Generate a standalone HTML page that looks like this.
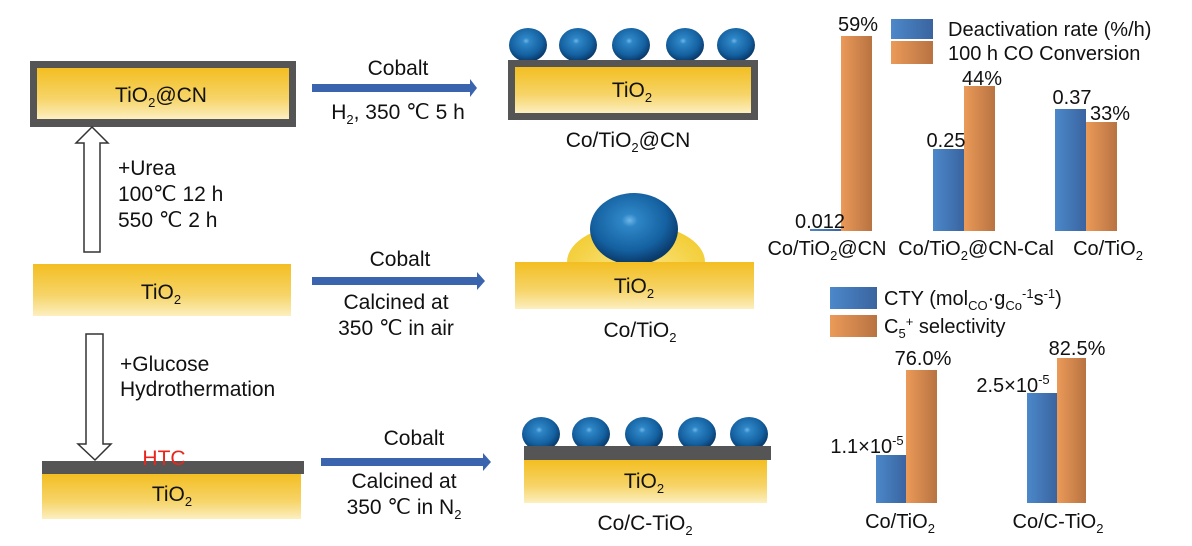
<!DOCTYPE html>
<html><head><meta charset="utf-8"><style>
html,body{margin:0;padding:0;background:#fff;}
svg{display:block;font-family:"Liberation Sans",Arial,sans-serif;}
</style></head><body>
<svg width="1192" height="546" viewBox="0 0 1192 546" xmlns="http://www.w3.org/2000/svg">
<defs>
<linearGradient id="gold" x1="0" y1="0" x2="0" y2="1"><stop offset="0" stop-color="#F3BE22"/><stop offset="0.6" stop-color="#F6D468"/><stop offset="1" stop-color="#FCEFC0"/></linearGradient>
<linearGradient id="bb" x1="0" y1="0" x2="1" y2="0"><stop offset="0" stop-color="#4C88CA"/><stop offset="1" stop-color="#3A64A0"/></linearGradient>
<linearGradient id="ob" x1="0" y1="0" x2="1" y2="0"><stop offset="0" stop-color="#EB9A58"/><stop offset="1" stop-color="#B87342"/></linearGradient>
<radialGradient id="sph" cx="0.45" cy="0.38" r="0.6"><stop offset="0" stop-color="#6FB6E8"/><stop offset="0.15" stop-color="#2E86C6"/><stop offset="0.7" stop-color="#1460A0"/><stop offset="1" stop-color="#0A3A6A"/></radialGradient>
<radialGradient id="mound" cx="0.5" cy="0.6" r="0.6"><stop offset="0" stop-color="#FBE58A"/><stop offset="1" stop-color="#F2CC30"/></radialGradient>
</defs>
<g font-size="20" fill="#111">
<!-- TiO2@CN -->
<rect x="30" y="61" width="266" height="66" fill="#555"/>
<rect x="37" y="68" width="252" height="51" fill="url(#gold)"/>
<text x="161" y="102" text-anchor="middle" font-size="21">TiO<tspan font-size="13" dy="5">2</tspan><tspan dy="-5">@CN</tspan></text>
<!-- up arrow -->
<polygon points="92,127 108,143 100,143 100,252 84,252 84,143 76,143" fill="#fff" stroke="#333" stroke-width="1.5"/>
<g font-size="21">
<text x="118" y="175">+Urea</text>
<text x="118" y="201">100℃ 12 h</text>
<text x="118" y="227">550 ℃ 2 h</text>
</g>
<!-- TiO2 plain -->
<rect x="33" y="264" width="258" height="52" fill="url(#gold)"/>
<text x="161" y="299" text-anchor="middle" font-size="21">TiO<tspan font-size="13" dy="5">2</tspan></text>
<!-- down arrow -->
<polygon points="86,334 103,334 103,444 111,444 95,460 78,444 86,444" fill="#fff" stroke="#333" stroke-width="1.5"/>
<g font-size="21">
<text x="120" y="371">+Glucose</text>
<text x="120" y="396">Hydrothermation</text>
</g>
<!-- HTC -->
<rect x="42" y="474" width="259" height="45" fill="url(#gold)"/>
<rect x="42" y="461" width="262" height="13" fill="#555"/>
<text x="164" y="465" text-anchor="middle" fill="#E8261E" font-size="21">HTC</text>
<text x="172" y="501" text-anchor="middle" font-size="21">TiO<tspan font-size="13" dy="5">2</tspan></text>
<!-- arrows -->
<g font-size="21">
<polygon points="312,84 470,84 470,79 477,88 470,97 470,92 312,92" fill="#3B64AE"/>
<text x="398" y="75" text-anchor="middle">Cobalt</text>
<text x="398" y="119" text-anchor="middle">H<tspan font-size="13" dy="5">2</tspan><tspan dy="-5">, 350 ℃ 5 h</tspan></text>
<polygon points="312,277 477,277 477,272 485,281 477,290 477,285 312,285" fill="#3B64AE"/>
<text x="400" y="266" text-anchor="middle">Cobalt</text>
<text x="396" y="309" text-anchor="middle">Calcined at</text>
<text x="396" y="335" text-anchor="middle">350 ℃ in air</text>
<polygon points="321,458 483,458 483,453 491,462 483,471 483,466 321,466" fill="#3B64AE"/>
<text x="414" y="445" text-anchor="middle">Cobalt</text>
<text x="404" y="488" text-anchor="middle">Calcined at</text>
<text x="404" y="514" text-anchor="middle">350 ℃ in N<tspan font-size="13" dy="5">2</tspan></text>
</g>
<!-- right top -->
<g fill="url(#sph)"><ellipse cx="528" cy="45" rx="19" ry="17"/><ellipse cx="578" cy="45" rx="19" ry="17"/><ellipse cx="631" cy="45" rx="19" ry="17"/><ellipse cx="685" cy="45" rx="19" ry="17"/><ellipse cx="736" cy="45" rx="19" ry="17"/></g>
<rect x="508" y="60" width="250" height="60" fill="#555"/>
<rect x="515" y="67" width="236" height="46" fill="url(#gold)"/>
<text x="632" y="97" text-anchor="middle" font-size="21">TiO<tspan font-size="13" dy="5">2</tspan></text>
<text x="628" y="147" text-anchor="middle" font-size="21">Co/TiO<tspan font-size="13" dy="5">2</tspan><tspan dy="-5">@CN</tspan></text>
<!-- right middle -->
<ellipse cx="636" cy="262" rx="69" ry="38" fill="url(#mound)"/>
<ellipse cx="634" cy="229" rx="44" ry="36" fill="url(#sph)"/>
<rect x="515" y="262" width="239" height="47" fill="url(#gold)"/>
<text x="634" y="293" text-anchor="middle" font-size="21">TiO<tspan font-size="13" dy="5">2</tspan></text>
<text x="640" y="337" text-anchor="middle" font-size="21">Co/TiO<tspan font-size="13" dy="5">2</tspan></text>
<!-- right bottom -->
<g fill="url(#sph)"><ellipse cx="541" cy="434" rx="19" ry="17"/><ellipse cx="591" cy="434" rx="19" ry="17"/><ellipse cx="644" cy="434" rx="19" ry="17"/><ellipse cx="697" cy="434" rx="19" ry="17"/><ellipse cx="749" cy="434" rx="19" ry="17"/></g>
<rect x="524" y="460" width="243" height="43" fill="url(#gold)"/>
<rect x="524" y="446" width="247" height="14" fill="#555"/>
<text x="644" y="488" text-anchor="middle" font-size="21">TiO<tspan font-size="13" dy="5">2</tspan></text>
<text x="645" y="530" text-anchor="middle" font-size="21">Co/C-TiO<tspan font-size="13" dy="5">2</tspan></text>
<!-- top chart -->
<rect x="891" y="19" width="42" height="20" fill="url(#bb)"/>
<rect x="891" y="41" width="42" height="23" fill="url(#ob)"/>
<text x="948" y="36">Deactivation rate (%/h)</text>
<text x="948" y="60">100 h CO Conversion</text>
<rect x="810" y="229" width="31" height="2" fill="url(#bb)"/>
<rect x="841" y="36" width="31" height="195" fill="url(#ob)"/>
<rect x="933" y="149" width="31" height="82" fill="url(#bb)"/>
<rect x="964" y="86" width="31" height="145" fill="url(#ob)"/>
<rect x="1055" y="109" width="31" height="122" fill="url(#bb)"/>
<rect x="1086" y="122" width="31" height="109" fill="url(#ob)"/>
<text x="858" y="31" text-anchor="middle">59%</text>
<text x="820" y="228" text-anchor="middle">0.012</text>
<text x="946" y="147" text-anchor="middle">0.25</text>
<text x="982" y="85" text-anchor="middle">44%</text>
<text x="1072" y="104" text-anchor="middle">0.37</text>
<text x="1110" y="120" text-anchor="middle">33%</text>
<text x="827" y="255" text-anchor="middle">Co/TiO<tspan font-size="13" dy="5">2</tspan><tspan dy="-5">@CN</tspan></text>
<text x="976" y="255" text-anchor="middle">Co/TiO<tspan font-size="13" dy="5">2</tspan><tspan dy="-5">@CN-Cal</tspan></text>
<text x="1108" y="255" text-anchor="middle">Co/TiO<tspan font-size="13" dy="5">2</tspan></text>
<!-- bottom chart -->
<rect x="830" y="287" width="47" height="22" fill="url(#bb)"/>
<rect x="830" y="315" width="47" height="22" fill="url(#ob)"/>
<text x="884" y="305">CTY (mol<tspan font-size="13" dy="5">CO</tspan><tspan dy="-5">·g</tspan><tspan font-size="13" dy="5">Co</tspan><tspan font-size="13" dy="-12">-1</tspan><tspan dy="7">s</tspan><tspan font-size="13" dy="-7">-1</tspan><tspan dy="7">)</tspan></text>
<text x="884" y="333">C<tspan font-size="13" dy="5">5</tspan><tspan font-size="13" dy="-12">+</tspan><tspan dy="7"> selectivity</tspan></text>
<rect x="876" y="455" width="30" height="48" fill="url(#bb)"/>
<rect x="906" y="370" width="31" height="133" fill="url(#ob)"/>
<rect x="1027" y="393" width="30" height="110" fill="url(#bb)"/>
<rect x="1057" y="358" width="29" height="145" fill="url(#ob)"/>
<text x="923" y="365" text-anchor="middle">76.0%</text>
<text x="1077" y="355" text-anchor="middle">82.5%</text>
<text x="867" y="453" text-anchor="middle">1.1×10<tspan font-size="13" dy="-8">-5</tspan></text>
<text x="1013" y="392" text-anchor="middle">2.5×10<tspan font-size="13" dy="-8">-5</tspan></text>
<text x="900" y="528" text-anchor="middle">Co/TiO<tspan font-size="13" dy="5">2</tspan></text>
<text x="1058" y="528" text-anchor="middle">Co/C-TiO<tspan font-size="13" dy="5">2</tspan></text>
</g>
</svg>
</body></html>
